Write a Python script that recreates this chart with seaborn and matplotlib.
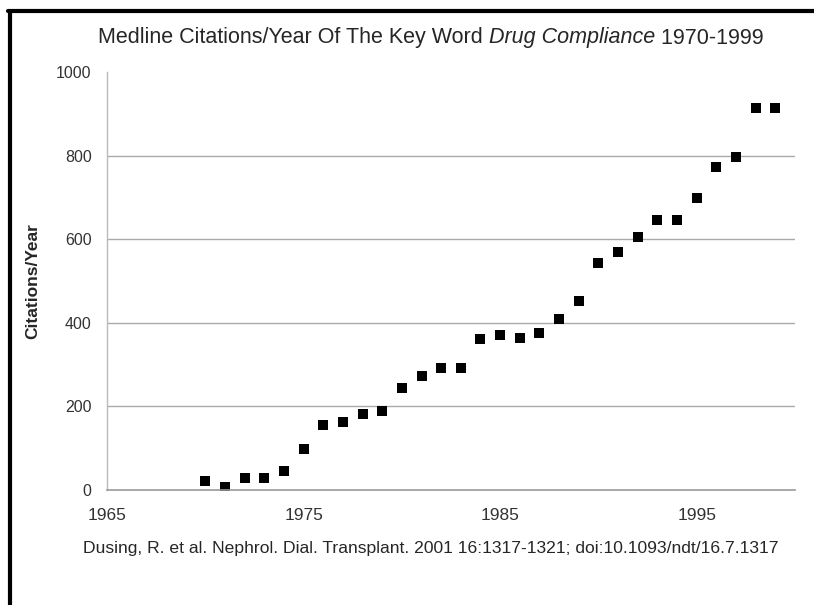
import pandas as pd
import numpy as np
import seaborn as sns
import matplotlib.pyplot as plt
from matplotlib.lines import Line2D

years = [1970, 1971, 1972, 1973, 1974, 1975, 1976, 1977, 1978, 1979,
         1980, 1981, 1982, 1983, 1984, 1985, 1986, 1987, 1988, 1989,
         1990, 1991, 1992, 1993, 1994, 1995, 1996, 1997, 1998, 1999]
citations = [21, 6, 28, 28, 45, 98, 155, 162, 182, 190,
             245, 273, 291, 293, 361, 370, 364, 375, 408, 452,
             542, 570, 605, 646, 646, 698, 772, 796, 914, 915]
x_ticks = [1965, 1975, 1985, 1995]
y_ticks = [0, 200, 400, 600, 800, 1000]

sns.set_style('white')
plt.rcParams['font.family'] = ['Liberation Sans', 'DejaVu Sans']

df = pd.DataFrame({'year': years, 'citations': citations})

W, H = 814, 605
fig = plt.figure(figsize=(W / 100, H / 100), dpi=100)
# axes: x 107..795 px, y 72..490 px
ax = fig.add_axes([107 / W, 1 - 490 / H, (795 - 107) / W, (490 - 72) / H])

sns.scatterplot(data=df, x='year', y='citations', marker='s', s=60,
                color='black', edgecolor='black', linewidth=0, ax=ax)

ax.set_xlim(1965, 2000)
ax.set_ylim(0, 1000)
ax.set_xticks(x_ticks)
ax.set_yticks(y_ticks)
ax.tick_params(axis='both', colors='#999999', labelcolor='#333333',
               length=3, width=0.8)
ax.tick_params(axis='x', direction='in', pad=13, labelsize=12.5)
ax.tick_params(axis='y', direction='out', pad=8, labelsize=11.5)
for y in y_ticks[1:-1]:
    ax.axhline(y, color='#aaaaaa', lw=1, zorder=0)
for side in ['top', 'right']:
    ax.spines[side].set_visible(False)
ax.spines['left'].set_color('#bbbbbb')
ax.spines['bottom'].set_color('#999999')
ax.spines['left'].set_linewidth(1)
ax.spines['bottom'].set_linewidth(1.2)
ax.set_xlabel('')
ax.set_ylabel('')

fig.text(33 / W, 1 - 281 / H, 'Citations/Year', rotation=90, ha='center', va='center',
         fontsize=12.5, fontweight='bold')

# title in three pieces so the middle can be italic
title_parts = ['Medline Citations/Year Of The Key Word ', 'Drug Compliance', ' 1970-1999']
title_styles = ['normal', 'italic', 'normal']
fig.canvas.draw()
renderer = fig.canvas.get_renderer()
texts = [fig.text(0, 1 - 38 / H, p, fontsize=15.5, style=st, ha='left', va='center')
         for p, st in zip(title_parts, title_styles)]
widths = [t.get_window_extent(renderer).width for t in texts]
x0 = 431 - sum(widths) / 2
for t, w in zip(texts, widths):
    t.set_x(x0 / W)
    x0 += w

fig.text(83 / W, 1 - 549 / H,
         'Dusing, R. et al. Nephrol. Dial. Transplant. 2001 16:1317-1321; doi:10.1093/ndt/16.7.1317',
         ha='left', va='center', fontsize=12.6)

fig.add_artist(Line2D([10 / W, 10 / W], [0.0, 1 - 11 / H], color='black', lw=3,
                      transform=fig.transFigure))
fig.add_artist(Line2D([8 / W, 1.0], [1 - 11 / H, 1 - 11 / H], color='black', lw=3,
                      transform=fig.transFigure))

fig.savefig('out.png', dpi=100)
